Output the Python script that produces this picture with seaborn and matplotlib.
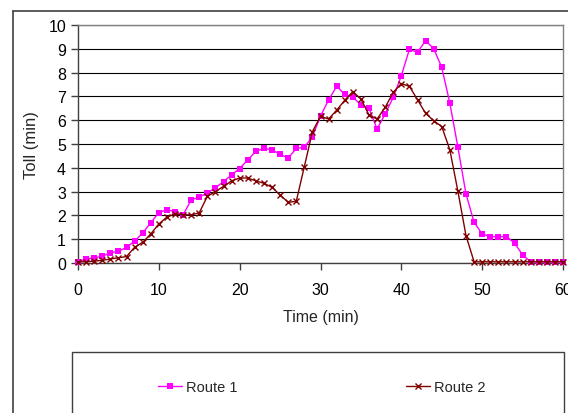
import matplotlib
matplotlib.use("Agg")
import matplotlib.pyplot as plt
import seaborn as sns
import pandas as pd
import numpy as np
from matplotlib.lines import Line2D
from matplotlib.patches import Rectangle

time_min = list(range(0, 61))
route1 = [0.05, 0.17, 0.22, 0.28, 0.43, 0.49, 0.66, 0.92, 1.26, 1.69,
          2.12, 2.24, 2.16, 2.02, 2.65, 2.77, 2.94, 3.16, 3.42, 3.70,
          3.97, 4.33, 4.69, 4.82, 4.75, 4.57, 4.40, 4.82, 4.86, 5.31,
          6.17, 6.85, 7.42, 7.09, 6.97, 6.64, 6.50, 5.63, 6.26, 6.96,
          7.87, 8.98, 8.85, 9.34, 9.01, 8.22, 6.72, 4.86, 2.90, 1.71,
          1.22, 1.11, 1.11, 1.11, 0.84, 0.34, 0.05, 0.05, 0.05, 0.05, 0.05]
route2 = [0.05, 0.05, 0.08, 0.11, 0.17, 0.22, 0.27, 0.66, 0.87, 1.22,
          1.64, 1.93, 2.06, 2.03, 2.02, 2.11, 2.80, 3.00, 3.22, 3.45,
          3.57, 3.57, 3.45, 3.35, 3.18, 2.86, 2.55, 2.59, 4.05, 5.52,
          6.16, 6.05, 6.42, 6.84, 7.20, 6.89, 6.22, 6.05, 6.54, 7.17,
          7.54, 7.42, 6.86, 6.29, 5.98, 5.73, 4.76, 3.01, 1.15, 0.05,
          0.05, 0.05, 0.05, 0.05, 0.05, 0.05, 0.05, 0.05, 0.05, 0.05, 0.05]
series_names = ["Route 1", "Route 2"]
x_ticks = [0, 10, 20, 30, 40, 50, 60]
y_ticks = list(range(0, 11))

df1 = pd.DataFrame({"Time (min)": time_min, "Toll (min)": route1})
df2 = pd.DataFrame({"Time (min)": time_min, "Toll (min)": route2})

sns.set_theme(style="white")
plt.rcParams["font.family"] = ["Liberation Sans", "DejaVu Sans"]
plt.rcParams["font.size"] = 11.5

W, H = 568, 414
fig = plt.figure(figsize=(W / 100, H / 100), dpi=100)
fig.patch.set_facecolor("white")

ax_l, ax_r, ax_t, ax_b = 78, 563, 26, 264
ax = fig.add_axes([ax_l / W, 1 - ax_b / H, (ax_r - ax_l) / W, (ax_b - ax_t) / H])

c1, c2 = "#FF00FF", "#800000"
sns.lineplot(data=df1, x="Time (min)", y="Toll (min)", color=c1, marker="s",
             markersize=4.5, markeredgewidth=0, linewidth=1.0, ax=ax, zorder=3)
sns.lineplot(data=df2, x="Time (min)", y="Toll (min)", color=c2, marker="x",
             markersize=5, markeredgewidth=1.0, markeredgecolor=c2, linewidth=1.0, ax=ax, zorder=4)
for ln in ax.lines:
    ln.set_clip_on(False)

ax.set_xlim(0, 60)
ax.set_ylim(0, 10)
ax.set_xticks(x_ticks)
ax.set_yticks(y_ticks)
ax.yaxis.grid(True, color="black", linewidth=0.8)
ax.xaxis.grid(False)
ax.set_axisbelow(True)
for s in ["top", "right"]:
    ax.spines[s].set_color("#808080")
    ax.spines[s].set_linewidth(1.0)
for s in ["left", "bottom"]:
    ax.spines[s].set_color("#404040")
    ax.spines[s].set_linewidth(1.0)
ax.tick_params(axis="both", which="major", direction="out", length=5, width=1,
               color="#404040", labelsize=11.5, labelcolor="black", left=True, bottom=True)
ax.tick_params(axis="x", pad=9)
ax.tick_params(axis="y", pad=3.6)
ax.set_xlabel("Time (min)", fontsize=11.5, labelpad=8.5)
ax.set_ylabel("Toll (min)", fontsize=12, labelpad=7)

# outer chart frame
fig.add_artist(Line2D([13 / W, 13 / W], [0, 1 - 12 / H], color="#404040", lw=1.2))
fig.add_artist(Line2D([13 / W, 1], [1 - 12 / H, 1 - 12 / H], color="#404040", lw=1.2))

# legend box
fig.add_artist(Rectangle((72 / W, -0.05), (564 - 72) / W, 0.05 + (414 - 353) / H,
                         transform=fig.transFigure, fill=False, edgecolor="#404040", lw=1.0))
handles = [Line2D([], [], color=c1, marker="s", markersize=4, markeredgewidth=0, lw=1.0),
           Line2D([], [], color=c2, marker="x", markersize=4.5, markeredgewidth=1.0, lw=1.0)]
fig.legend(handles, series_names, loc="center left", bbox_to_anchor=(151 / W, 1 - 388 / H),
           ncol=2, frameon=False, borderpad=0, handlelength=1.65, handletextpad=0.27,
           columnspacing=11.5, fontsize=10.5)

fig.savefig("out.png", dpi=100)
